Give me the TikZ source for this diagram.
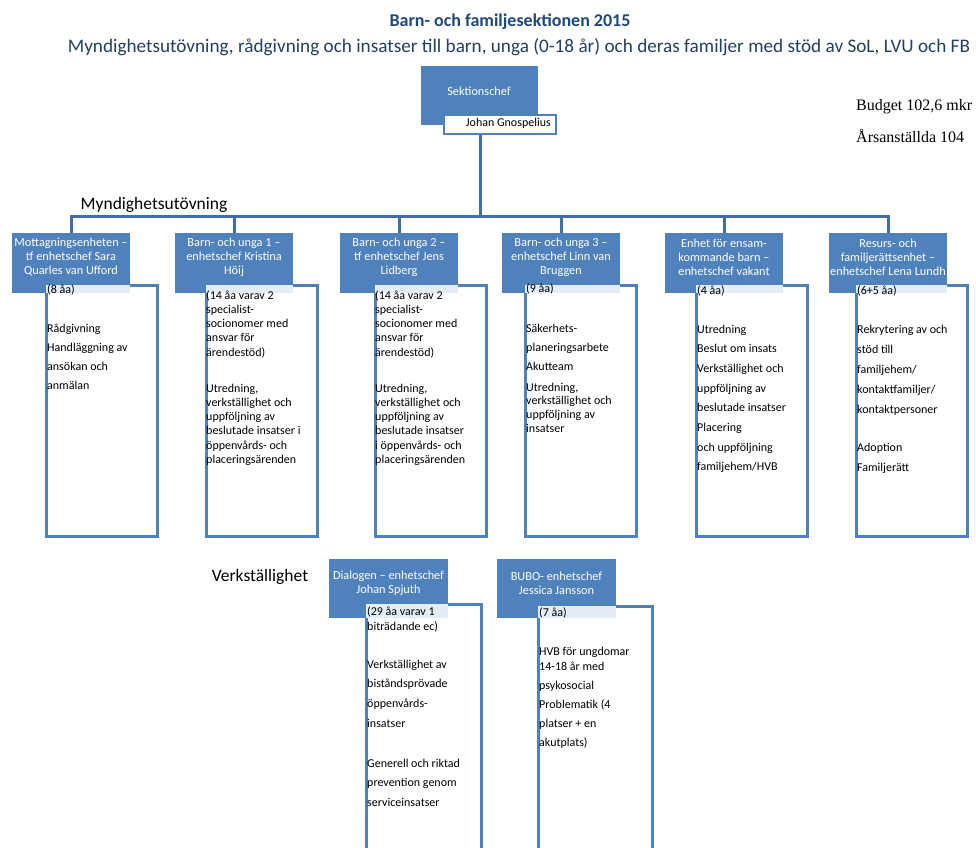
\documentclass[tikz,border=0pt]{standalone}
\usepackage{fontspec}
\usetikzlibrary{shadows}
\setmainfont{Carlito}
\newfontfamily\tnr{Liberation Serif}
\definecolor{hdr}{RGB}{79,129,189}
\definecolor{connc}{RGB}{65,110,165}
\definecolor{ttl}{RGB}{31,73,125}
\definecolor{subc}{RGB}{36,64,97}
\newcommand{\tlines}[5]{%
  \foreach \t [count=\i from 0] in {#5} {\node[dtext] (#1\i) at (#2, {#3+\i*#4}) {\t};}}
\begin{document}
\begin{tikzpicture}[x=1pt,y=-1pt,
  hbox/.style={fill=hdr, draw=none, minimum width=118pt, minimum height=60pt, inner sep=0, anchor=north west},
  dbox/.style={fill=white, draw=hdr, line width=3pt, anchor=north west, inner sep=0,
    drop shadow={shadow xshift=1.5pt, shadow yshift=-1.5pt, opacity=0.18}},
  htext/.style={text=white, align=center, font=\fontsize{12.3}{14}\selectfont, inner sep=0},
  dtext/.style={anchor=base west, font=\fontsize{12}{14}\selectfont, inner sep=0},
  strip/.style={fill=white, fill opacity=0.85, draw=none},
  conn/.style={draw=connc, line width=3pt}]
\clip (0,0) rectangle (976,847);
\fill[white] (0,0) rectangle (976,847);

% titles
\node[anchor=base, font=\fontsize{18}{20}\selectfont\bfseries, text=ttl, inner sep=0] (title) at (510,26) {Barn- och familjesektionen 2015};
\node[anchor=base, font=\fontsize{19.2}{21}\selectfont, text=subc, inner sep=0] (subtitle) at (519,52) {Myndighetsutövning, rådgivning och insatser till barn, unga (0-18 år) och deras familjer med stöd av SoL, LVU och FB};
\node[anchor=base west, font=\tnr\fontsize{16}{18}\selectfont, inner sep=0] (budget) at (856,110) {Budget 102,6 mkr};
\node[anchor=base west, font=\tnr\fontsize{16}{18}\selectfont, inner sep=0] (anst) at (856,142) {Årsanställda 104};

% section chief
\node[fill=hdr, minimum width=117pt, minimum height=59pt, inner sep=0, anchor=north west] (sek) at (421,66) {};
\node[htext] (sekt) at (479,91) {Sektionschef};
\node[fill=white, draw=hdr, line width=2pt, minimum width=112pt, minimum height=19pt, inner sep=0, anchor=north west] (jg) at (443,114) {};
\node[anchor=east, font=\fontsize{12}{14}\selectfont, inner sep=0] (jgt) at (551,123) {Johan Gnospelius};

% connectors
\coordinate (bus) at (480,216);

% detail boxes (behind headers)
\node[dbox, minimum width=111pt, minimum height=251pt] (d1) at (44.5,283.5) {};
\node[dbox, minimum width=111pt, minimum height=251pt] (d2) at (204.5,283.5) {};
\node[dbox, minimum width=111pt, minimum height=251pt] (d3) at (373.5,283.5) {};
\node[dbox, minimum width=111pt, minimum height=251pt] (d4) at (523.5,283.5) {};
\node[dbox, minimum width=111pt, minimum height=251pt] (d5) at (694.5,283.5) {};
\node[dbox, minimum width=111pt, minimum height=251pt] (d6) at (854.5,283.5) {};
\node[dbox, minimum width=115pt, minimum height=300pt] (dd) at (364.5,602.5) {};
\node[dbox, minimum width=114pt, minimum height=300pt] (db) at (536.5,604.5) {};

% headers
\node[hbox] (h1) at (12,233) {};
\node[hbox] (h2) at (175,233) {};
\node[hbox] (h3) at (340,233) {};
\node[hbox] (h4) at (502,233) {};
\node[hbox] (h5) at (665,233) {};
\node[hbox] (h6) at (829,233) {};
\node[hbox, minimum width=119pt, minimum height=59pt] (hd) at (329,559) {};
\node[hbox, minimum width=119pt, minimum height=59pt] (hb) at (497,559) {};

\draw[conn] (bus |- jg.south) -- (bus);
\draw[conn] (h1.north) |- (bus) -| (h6.north);
\draw[conn] (h2.north) -- (h2.north |- bus);
\draw[conn] (h3.north) -- (h3.north |- bus);
\draw[conn] (h4.north) -- (h4.north |- bus);
\draw[conn] (h5.north) -- (h5.north |- bus);

% light strips where the detail boxes overlap the headers
\fill[strip] (46,285) rectangle (h1.south east);
\fill[strip] (206,285) rectangle (h2.south east);
\fill[strip] (375,285) rectangle (h3.south east);
\fill[strip] (525,285) rectangle (h4.south east);
\fill[strip] (696,285) rectangle (h5.south east);
\fill[strip] (856,285) rectangle (h6.south east);
\fill[strip] (366,604) rectangle (hd.south east);
\fill[strip] (538,606) rectangle (hb.south east);

% header texts
\node[htext] (h1t) at (71,257) {Mottagningsenheten –\\tf enhetschef Sara\\Quarles van Ufford};
\node[htext] (h2t) at (234,257) {Barn- och unga 1 –\\enhetschef Kristina\\Höij};
\node[htext] (h3t) at (399,257) {Barn- och unga 2 –\\tf enhetschef Jens\\Lidberg};
\node[htext] (h4t) at (561,257) {Barn- och unga 3 –\\enhetschef Linn van\\Bruggen};
\node[htext] (h5t) at (724,257) {Enhet för ensam-\\kommande barn –\\enhetschef vakant};
\node[htext] (h6t) at (888,257) {Resurs- och\\familjerättsenhet –\\enhetschef Lena Lundh};
\node[htext] (hdt) at (388.5,583.5) {Dialogen – enhetschef\\Johan Spjuth};
\node[htext] (hbt) at (556.5,583.5) {BUBO- enhetschef\\Jessica Jansson};

% group labels
\node[anchor=base, font=\fontsize{17.5}{20}\selectfont, inner sep=0] (myn) at (154,209) {Myndighetsutövning};
\node[anchor=base, font=\fontsize{17.5}{20}\selectfont, inner sep=0] (verk) at (260,581) {Verkställighet};

% detail texts
\tlines{a}{47}{293}{0}{{(8 åa)}}
\tlines{b}{47}{332}{19.3}{Rådgivning, Handläggning av, ansökan och, anmälan}

\tlines{c}{206}{299}{14.3}{{(14 åa varav 2}, specialist-, socionomer med, ansvar för, ärendestöd)}
\tlines{e}{206}{392}{14.3}{{Utredning,}, verkställighet och, uppföljning av, beslutade insatser i, öppenvårds- och, placeringsärenden}

\tlines{f}{375}{299}{14.3}{{(14 åa varav 2}, specialist-, socionomer med, ansvar för, ärendestöd)}
\tlines{g}{375}{392}{14.3}{{Utredning,}, verkställighet och, uppföljning av, beslutade insatser, i öppenvårds- och, placeringsärenden}

\tlines{k}{526}{292}{0}{{(9 åa)}}
\tlines{l}{526}{332}{19}{Säkerhets-, planeringsarbete, Akutteam}
\tlines{m}{526}{391}{13.7}{{Utredning,}, verkställighet och, uppföljning av, insatser}

\tlines{n}{697}{294}{0}{{(4 åa)}}
\tlines{o}{697}{333}{19.7}{Utredning, Beslut om insats, Verkställighet och, uppföljning av, beslutade insatser, Placering, och uppföljning, familjehem/HVB}

\tlines{p}{857}{294}{0}{{(6+5 åa)}}
\tlines{q}{857}{333}{20}{Rekrytering av och, stöd till, familjehem/, kontaktfamiljer/, kontaktpersoner}
\tlines{r}{857}{451}{20}{Adoption, Familjerätt}

\tlines{s}{367}{615}{15}{{(29 åa varav 1}, biträdande ec)}
\tlines{u}{367}{668}{19.7}{Verkställighet av, biståndsprövade, öppenvårds-, insatser}
\tlines{v}{367}{767}{19.5}{Generell och riktad, prevention genom, serviceinsatser}

\tlines{w}{539}{616}{0}{{(7 åa)}}
\tlines{x}{539}{655}{15}{HVB för ungdomar, 14-18 år med}
\tlines{z}{539}{689}{19.3}{psykosocial, Problematik (4, platser + en, akutplats)}
\end{tikzpicture}
\end{document}
